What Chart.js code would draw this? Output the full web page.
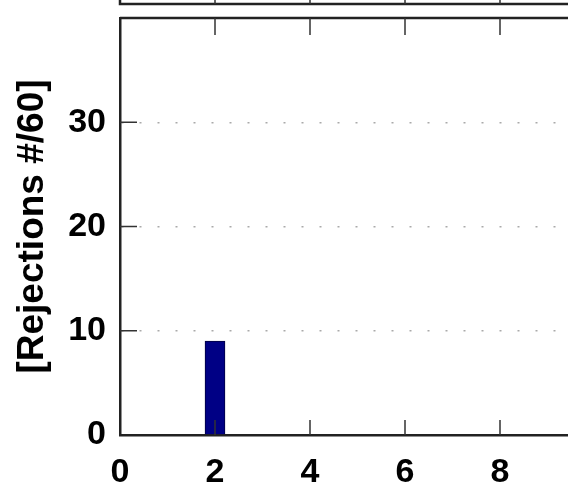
<!DOCTYPE html>
<html>
<head>
<meta charset="utf-8">
<script src="https://cdn.jsdelivr.net/npm/chart.js@4.4.1/dist/chart.umd.min.js"></script>
<style>
    html, body { margin: 0; padding: 0; background: #fff; overflow: hidden; }
    #wrap { width: 568px; height: 485px; overflow: hidden; }
    #box { width: 690px; height: 485px; position: relative; }
</style>
</head>
<body>
<div id="wrap"><div id="box"><canvas id="rejChart"></canvas></div></div>
<script>
// data
const positions = [2];
const rejections = [9];
const xTicks = [0, 2, 4, 6, 8];
const yTicks = [0, 10, 20, 30];

const FONT = "'Liberation Sans', Arial, sans-serif";

// gnuplot-like frame: inner ticks, top border and the bottom of the plot above
const framePlugin = {
    id: 'frame',
    afterDraw(chart) {
        const ctx = chart.ctx;
        const a = chart.chartArea;
        const xs = chart.scales.x;
        const ys = chart.scales.y;
        ctx.save();
        ctx.strokeStyle = '#222';
        ctx.lineWidth = 2.5;
        ctx.beginPath();
        ctx.moveTo(a.left, a.top);
        ctx.lineTo(a.right, a.top);
        // plot above (cut off)
        ctx.moveTo(a.left, 0);
        ctx.lineTo(a.left, 4);
        ctx.lineTo(a.right, 4);
        ctx.stroke();

        ctx.strokeStyle = '#333';
        ctx.lineWidth = 1.5;
        ctx.beginPath();
        xTicks.forEach(function(v) {
            if (v === 0) return;
            const px = xs.getPixelForValue(v);
            ctx.moveTo(px, a.bottom);
            ctx.lineTo(px, a.bottom - 15);
            ctx.moveTo(px, a.top);
            ctx.lineTo(px, a.top + 17);
            ctx.moveTo(px, 0);
            ctx.lineTo(px, 4);
        });
        yTicks.forEach(function(v) {
            if (v === 0) return;
            const py = ys.getPixelForValue(v);
            ctx.moveTo(a.left, py);
            ctx.lineTo(a.left + 17, py);
        });
        ctx.stroke();
        ctx.restore();
    }
};

new Chart(document.getElementById('rejChart').getContext('2d'), {
    type: 'bar',
    data: {
        datasets: [{
            data: positions.map((p, i) => ({ x: p, y: rejections[i] })),
            backgroundColor: '#000085',
            borderColor: '#000040',
            borderWidth: 1,
            barThickness: 20
        }]
    },
    plugins: [framePlugin],
    options: {
        responsive: true,
        maintainAspectRatio: false,
        animation: false,
        layout: { padding: { top: 18, left: 0, right: 0, bottom: 0 } },
        plugins: {
            legend: { display: false },
            tooltip: { enabled: false }
        },
        scales: {
            x: {
                type: 'linear',
                min: 0,
                max: 12,
                offset: false,
                afterFit: s => { s.height = 50; s.paddingLeft = 0; s.paddingRight = 0; },
                afterBuildTicks: s => { s.ticks = xTicks.map(v => ({ value: v })); },
                ticks: {
                    color: '#000',
                    font: { family: FONT, size: 34, weight: 'bold' },
                    padding: 9,
                    maxRotation: 0
                },
                grid: { display: false },
                border: { display: true, color: '#222', width: 2.5 }
            },
            y: {
                min: 0,
                max: 40,
                afterFit: s => { s.width = 120; s.paddingTop = 0; s.paddingBottom = 0; },
                afterBuildTicks: s => { s.ticks = yTicks.map(v => ({ value: v })); },
                ticks: {
                    color: '#000',
                    font: { family: FONT, size: 34, weight: 'bold' },
                    padding: 14
                },
                grid: { color: '#aaa', lineWidth: 1.5, drawTicks: false },
                border: { display: true, color: '#222', width: 2.5, dash: [2, 16] },
                title: {
                    display: true,
                    text: '[Rejections #/60]',
                    color: '#000',
                    font: { family: FONT, size: 37, weight: 'bold' },
                    padding: { top: 11, bottom: 0 }
                }
            }
        }
    }
});
</script>
</body>
</html>
